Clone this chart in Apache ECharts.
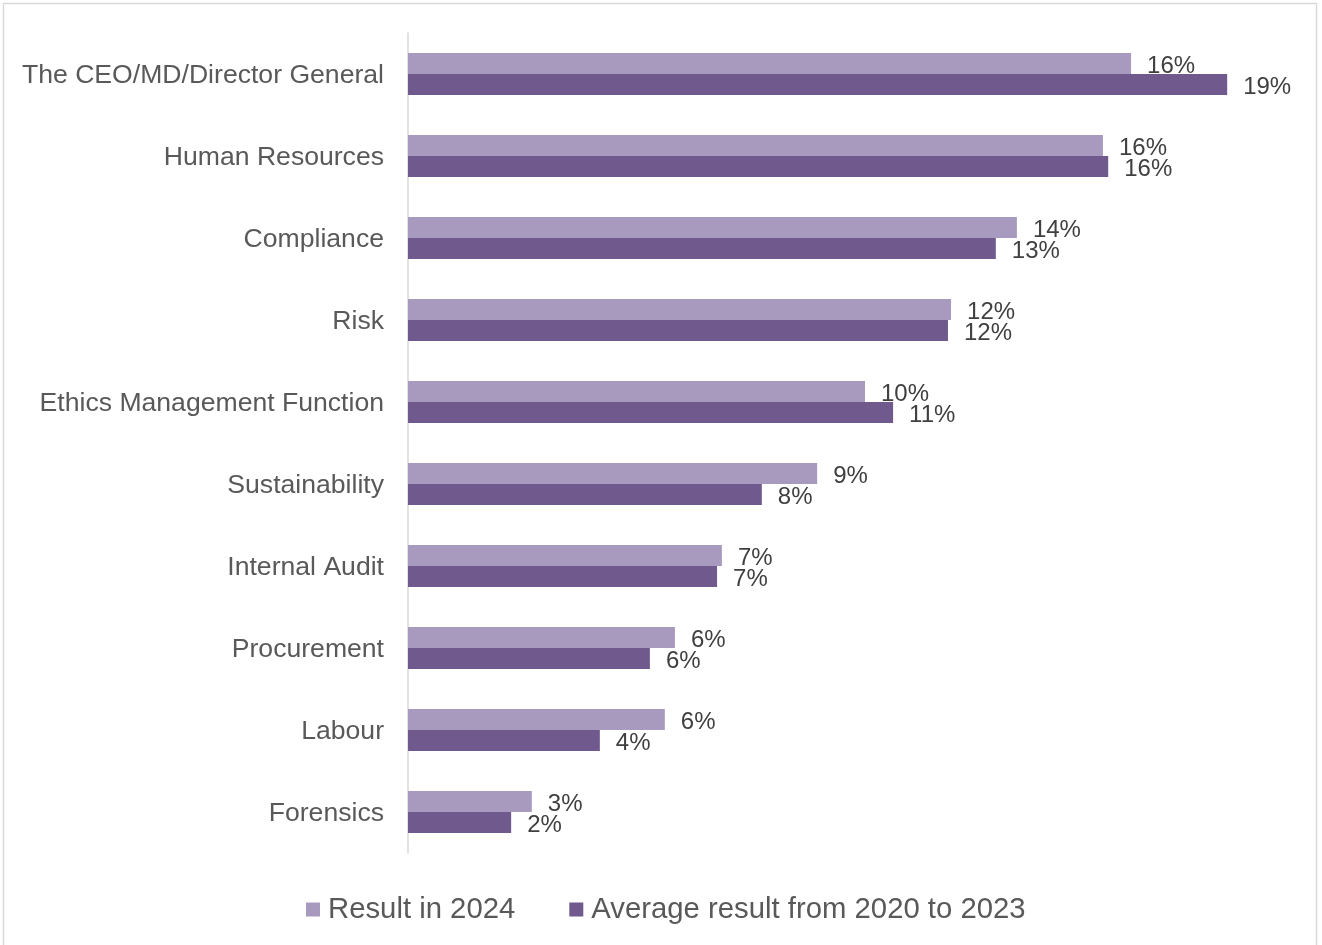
<!DOCTYPE html>
<html>
<head>
<meta charset="utf-8">
<script src="https://cdn.jsdelivr.net/npm/echarts@6/dist/echarts.min.js"></script>
<style>
html,body{margin:0;padding:0;background:#fff;}
#chart{width:1322px;height:945px;}
</style>
</head>
<body>
<div id="chart"></div>
<script>
const categories = [
  'The CEO/MD/Director General',
  'Human Resources',
  'Compliance',
  'Risk',
  'Ethics Management Function',
  'Sustainability',
  'Internal Audit',
  'Procurement',
  'Labour',
  'Forensics'
];
const result2024 = [16.47, 15.83, 13.87, 12.37, 10.41, 9.32, 7.15, 6.08, 5.85, 2.82];
const average2020to2023 = [18.66, 15.95, 13.39, 12.30, 11.05, 8.06, 7.04, 5.51, 4.37, 2.35];
const seriesNames = ['Result in 2024', 'Average result from 2020 to 2023'];

const chart = echarts.init(document.getElementById('chart'));
const labelStyle = {
  show: true,
  position: 'right',
  distance: 16,
  offset: [0, 2.5],
  color: '#404040',
  fontSize: 24,
  fontFamily: 'Liberation Sans, Arial, sans-serif',
  formatter: p => Math.round(p.value) + '%'
};
chart.setOption({
  animation: false,
  textStyle: { fontFamily: 'Liberation Sans, Arial, sans-serif' },
  graphic: [{
    type: 'rect',
    shape: { x: 3.5, y: 3.5, width: 1313, height: 960 },
    style: { fill: 'none', stroke: '#D9D9D9', lineWidth: 1.5 },
    silent: true
  }],
  legend: {
    data: seriesNames,
    left: 301,
    top: 890,
    itemWidth: 14,
    itemHeight: 14,
    itemGap: 54,
    icon: 'rect',
    textStyle: { fontSize: 29.3, color: '#595959', padding: [0, 0, 0, 3] }
  },
  grid: { left: 408, right: 36, top: 33, bottom: 92, containLabel: false },
  xAxis: {
    type: 'value',
    min: 0,
    max: 20,
    show: false,
    splitLine: { show: false }
  },
  yAxis: {
    type: 'category',
    data: categories,
    inverse: true,
    axisLine: { show: true, lineStyle: { color: '#D9D9D9', width: 1.5 } },
    axisTick: { show: false },
    axisLabel: {
      margin: 24,
      formatter: v => '{c|' + v + '}',
      rich: { c: { fontSize: 26.6, color: '#595959', padding: [4, 0, 0, 0] } }
    }
  },
  series: [
    {
      name: seriesNames[0],
      type: 'bar',
      data: result2024,
      barWidth: 21,
      barGap: '0%',
      itemStyle: { color: '#A89ABE' },
      label: labelStyle
    },
    {
      name: seriesNames[1],
      type: 'bar',
      data: average2020to2023,
      barWidth: 21,
      barGap: '0%',
      itemStyle: { color: '#705A8D' },
      label: labelStyle
    }
  ]
});
</script>
</body>
</html>
